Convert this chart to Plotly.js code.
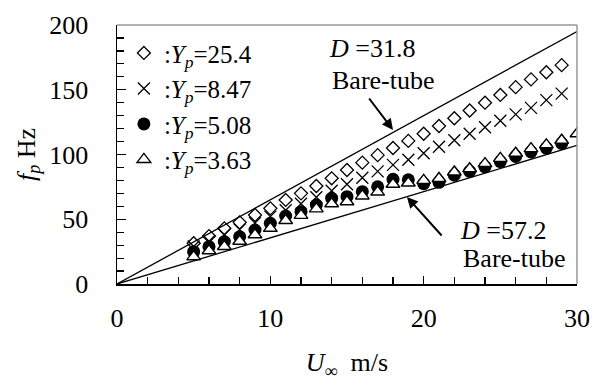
<!DOCTYPE html>
<html>
<head>
<meta charset="utf-8">
<script src="https://cdn.plot.ly/plotly-3.0.1.min.js"></script>
<style>html,body{margin:0;padding:0;background:#fff}#chart{width:600px;height:388px}</style>
</head>
<body>
<div id="chart"></div>
<script>
// Free-stream velocity U (m/s) for each data column
const uDiamond = [5,6,7,8,9,10,11,12,13,14,15,16,17,18,19,20,21,22,23,24,25,26,27,28,29];
const fDiamond = [31.5,37,43,47.6,53.3,58.4,64.9,70,75.7,81.6,88,93.7,99.5,105,110.5,116,122,128,134,140,146,152,158,163.5,169];

const uCross = [5,6,7,8,9,10,11,12,13,14,15,16,17,18,19,20,21,22,23,24,25,26,27,28,29];
const fCross = [29,33,38,42,47,52,57,62,67,72,77,82,87,92,96,101,106,111,116,121,126,131,136,142,147];

const uCircle = [5,6,7,8,9,10,11,12,13,14,15,16,17,18,19,20,21,22,23,24,25,26,27,28,29];
const fCircle = [25,28.8,32.7,36.5,41.7,46.9,52.5,55.8,61,66.2,67.4,71.3,75.1,80.8,80.5,77.5,78.5,84,87,90.5,94.5,98.5,102,105,108.5];

const uTriangle = [5,6,7,8,9,10,11,12,13,14,15,16,17,18,19,20,21,22,23,24,25,26,27,28,29,30];
const fTriangle = [21,25.7,29,33,38,43,49,53,58,62,63.5,68,71,77,78,80,81.5,86.5,89,93,97,101,104.5,107.5,111,116];

// Bare-tube reference lines
const uLine = [0, 30];
const fBare318 = [0, 195];
const fBare572 = [0, 107];

const legendNames = [
  ':<i>Y</i><sub><i>p</i></sub>=25.4',
  ':<i>Y</i><sub><i>p</i></sub>=8.47',
  ':<i>Y</i><sub><i>p</i></sub>=5.08',
  ':<i>Y</i><sub><i>p</i></sub>=3.63'
];
const xTickVals = [0, 10, 20, 30];
const yTickVals = [0, 50, 100, 150, 200];

const FONT = 'Liberation Serif, Times New Roman, serif';

const traces = [
  {x: uLine, y: fBare318, mode: 'lines', line: {color: '#000', width: 1.3}, showlegend: false, hoverinfo: 'skip'},
  {x: uLine, y: fBare572, mode: 'lines', line: {color: '#000', width: 1.3}, showlegend: false, hoverinfo: 'skip'},
  {x: uDiamond, y: fDiamond, mode: 'markers', name: legendNames[0],
   marker: {symbol: 'diamond-open', size: 10, color: '#000', line: {width: 1.3, color: '#000'}}},
  {x: uCross, y: fCross, mode: 'markers', name: legendNames[1],
   marker: {symbol: 'x-thin-open', size: 12, color: '#000', line: {width: 1.3, color: '#000'}}},
  {x: uCircle, y: fCircle, mode: 'markers', name: legendNames[2],
   marker: {symbol: 'circle', size: 13, color: '#000', line: {width: 0}}},
  {x: uTriangle, y: fTriangle, mode: 'markers', name: legendNames[3],
   marker: {symbol: 'triangle-up', size: 12, color: '#fff', line: {width: 1.4, color: '#000'}}}
];

const layout = {
  width: 600, height: 388,
  margin: {l: 117, r: 23, t: 25, b: 104, pad: 0},
  paper_bgcolor: '#fff', plot_bgcolor: '#fff',
  font: {family: FONT, size: 26, color: '#000'},
  showlegend: true,
  legend: {x: 0.015, y: 0.98, xanchor: 'left', yanchor: 'top', bgcolor: 'rgba(0,0,0,0)',
           borderwidth: 0, font: {family: FONT, size: 25, color: '#000'}, itemclick: false},
  xaxis: {
    range: [0, 30], showgrid: false, zeroline: false,
    showline: true, linecolor: '#000', linewidth: 1.5,
    tickmode: 'array', tickvals: xTickVals, ticktext: xTickVals.map(String),
    ticks: 'inside', ticklen: 8, tickwidth: 1.2, tickcolor: '#000',
    minor: {dtick: 2, ticks: 'inside', ticklen: 7, tickwidth: 1.2, tickcolor: '#000', showgrid: false},
    ticklabelstandoff: 10,
    tickfont: {family: FONT, size: 26},
    title: {text: '<i>U</i><sub>\u221e</sub>  m/s', font: {family: FONT, size: 26}, standoff: 21}
  },
  yaxis: {
    range: [0, 200], showgrid: false, zeroline: false,
    showline: true, linecolor: '#000', linewidth: 1.5,
    tickmode: 'array', tickvals: yTickVals, ticktext: yTickVals.map(String),
    ticks: 'inside', ticklen: 9, tickwidth: 1.2, tickcolor: '#000',
    minor: {dtick: 10, ticks: 'inside', ticklen: 7, tickwidth: 1.2, tickcolor: '#000', showgrid: false},
    ticklabelstandoff: 22,
    tickfont: {family: FONT, size: 26},
    title: {text: '<i>f</i><sub><i>p</i></sub> Hz', font: {family: FONT, size: 26}, standoff: 6}
  },
  shapes: [
    {type: 'line', xref: 'x domain', yref: 'y domain', x0: 0, x1: 1, y0: 1, y1: 1, line: {color: '#999', width: 1.5}},
    {type: 'line', xref: 'x domain', yref: 'y domain', x0: 1, x1: 1, y0: 0, y1: 1, line: {color: '#999', width: 1.5}}
  ],
  annotations: [
    {x: 16.63, y: 182, xref: 'x', yref: 'y', text: '<i>D</i> =31.8', showarrow: false, font: {family: FONT, size: 26}},
    {x: 17.35, y: 157.5, xref: 'x', yref: 'y', text: 'Bare-tube', showarrow: false, font: {family: FONT, size: 26}},
    {x: 25.17, y: 41.7, xref: 'x', yref: 'y', text: '<i>D</i> =57.2', showarrow: false, font: {family: FONT, size: 26}},
    {x: 25.9, y: 20, xref: 'x', yref: 'y', text: 'Bare-tube', showarrow: false, font: {family: FONT, size: 26}},
    {x: 18.0, y: 119, xref: 'x', yref: 'y', axref: 'x', ayref: 'y', ax: 16.37, ay: 144.4, text: '',
     showarrow: true, arrowhead: 2, arrowsize: 1.1, arrowwidth: 2, arrowcolor: '#000', standoff: 0},
    {x: 18.91, y: 67.2, xref: 'x', yref: 'y', axref: 'x', ayref: 'y', ax: 21.26, ay: 36.3, text: '',
     showarrow: true, arrowhead: 2, arrowsize: 1.1, arrowwidth: 2, arrowcolor: '#000', standoff: 0}
  ]
};

Plotly.newPlot('chart', traces, layout, {displayModeBar: false, staticPlot: true});
</script>
</body>
</html>
